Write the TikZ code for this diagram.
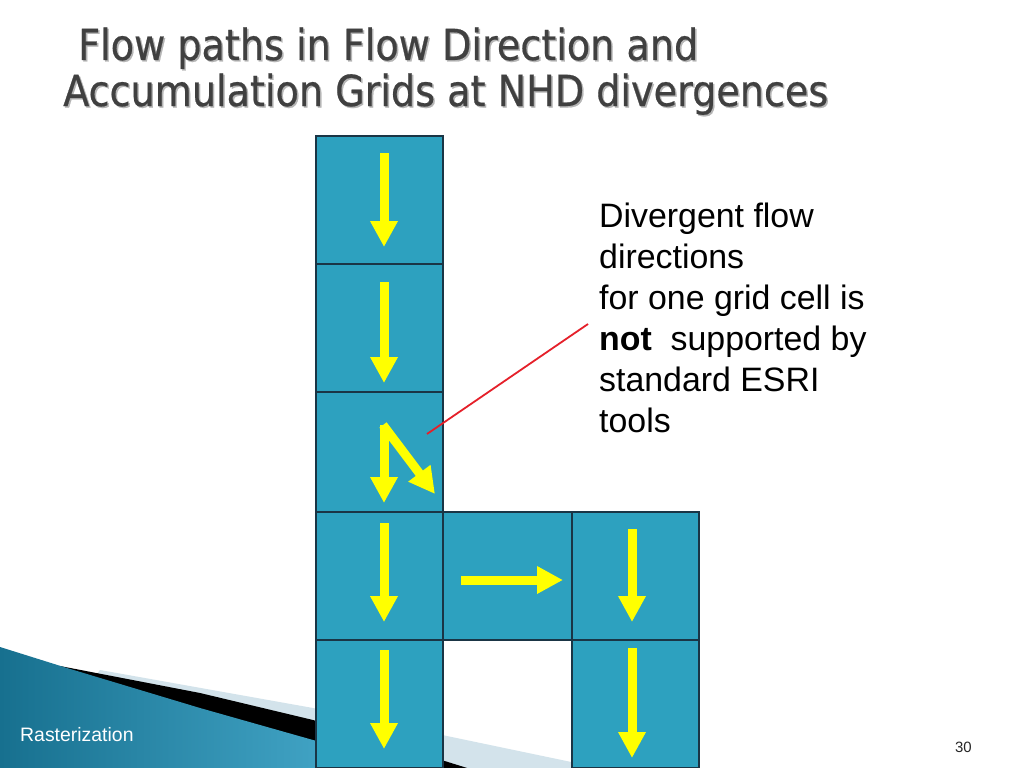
\documentclass[tikz,border=0pt]{standalone}
\usepackage{fontspec}
\setmainfont{Liberation Sans}
\newfontfamily\titlefont[FakeStretch=0.89,FakeBold=0.5]{DejaVu Sans}
\usetikzlibrary{arrows.meta,calc}
\definecolor{cellblue}{HTML}{2DA1BF}
\definecolor{celledge}{HTML}{1A3545}
\definecolor{flowyellow}{HTML}{FFFF00}
\definecolor{titlegray}{HTML}{404040}
\definecolor{titleshadow}{HTML}{B5B5B5}
\definecolor{swooshlight}{HTML}{D3E3EB}
\definecolor{swooshdark}{HTML}{17708F}
\definecolor{swooshmid}{HTML}{4DB2D4}
\definecolor{calloutred}{HTML}{E5202A}
\begin{document}
\begin{tikzpicture}[x=1bp,y=-1bp,
  cell/.style={draw=celledge,line width=1.3bp,fill=cellblue,minimum width=127bp,minimum height=128bp,inner sep=0pt,outer sep=0pt},
  flow/.style={draw=flowyellow,line width=9bp,-{Triangle[width=26bp,length=26bp]}},
  titletext/.style={anchor=base west,inner sep=0pt,font=\titlefont\fontsize{43}{48}\selectfont},
  bodytext/.style={anchor=base west,inner sep=0pt,align=left,font=\fontsize{34}{41}\selectfont}]
\clip (0,0) rectangle (1024,768);
\fill[white] (0,0) rectangle (1024,768);
% bottom-left swoosh
\fill[swooshlight] (100,670) -- (313,708) -- (600,768) -- (600,800) -- (0,800) -- cycle;
\fill[black] (60,666) -- (200,693) -- (313,720) -- (480,772) -- (480,800) -- (0,800) -- cycle;
\shade[left color=swooshdark,right color=swooshmid] (0,647) -- (67,668) -- (200,708) -- (313,740) -- (420,770) -- (420,800) -- (0,800) -- cycle;
% title
\node[titletext,text=titleshadow] at (79.5,61.5) {Flow paths in Flow Direction and};
\node[titletext,text=titleshadow] at (64.5,107.5) {Accumulation Grids at NHD divergences};
\node[titletext,text=titlegray] (t1) at (78,60) {Flow paths in Flow Direction and};
\node[titletext,text=titlegray] (t2) at (63,106) {Accumulation Grids at NHD divergences};
% grid cells
\node[cell] (c1) at (379.5,200) {};
\node[cell] (c2) at (379.5,328) {};
\node[cell,minimum height=120bp] (c3) at (379.5,452) {};
\node[cell] (c4) at (379.5,576) {};
\node[cell] (c5) at (379.5,704) {};
\node[cell,minimum width=129bp] (c6) at (507.5,576) {};
\node[cell] (c7) at (635.5,576) {};
\node[cell] (c8) at (635.5,704) {};
% flow arrows
\draw[flow] (384,153) -- (384,247);
\draw[flow] (384,282) -- (384,383);
\draw[flow] (384,425) -- (384,503);
\draw[flow] (383,425) -- (435,494);
\draw[flow] (384,523) -- (384,622);
\draw[flow] (384,650) -- (384,749);
\draw[flow] (461,580) -- (563,580);
\draw[flow] (632,529) -- (632,622);
\draw[flow] (632,648) -- (632,758);
% callout
\node[bodytext] (note) at (599,432) {Divergent flow\\directions\\for one grid cell is\\\textbf{not}\ \ supported by\\standard ESRI\\tools};
\coordinate (noteend) at (588,324);
\coordinate (divcell) at (427,434);
\draw[calloutred,line width=1.8bp] (noteend) -- (divcell);
% footer
\node[anchor=base west,inner sep=0pt,text=white,font=\fontsize{19.5}{22}\selectfont] (footer) at (20,741) {Rasterization};
\node[anchor=base east,inner sep=0pt,text=black!85,font=\fontsize{15}{18}\selectfont] (pagenum) at (972,752) {30};
\end{tikzpicture}
\end{document}
